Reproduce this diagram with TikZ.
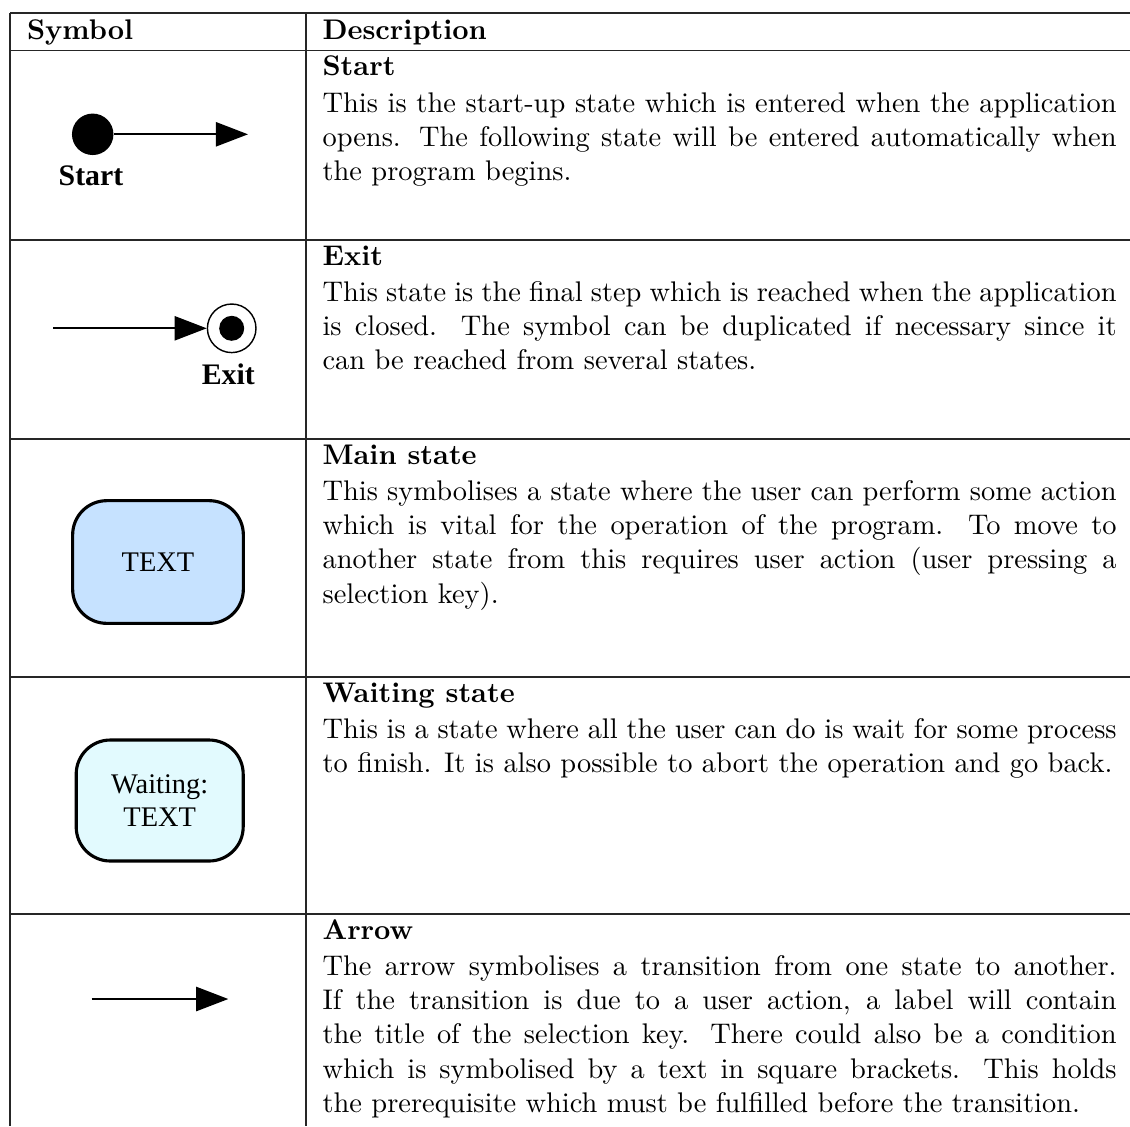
\documentclass[tikz,border=0pt]{standalone}
\usepackage{fontspec}
\usetikzlibrary{arrows.meta}
\newfontfamily\symfont{Liberation Serif}
\definecolor{mainfill}{HTML}{C6E2FF}
\definecolor{waitfill}{HTML}{E2FAFE}
\newlength\descw
\setlength\descw{279.6pt}
% one justified line of the description column
\newcommand\jline[1]{\makebox[\descw][s]{#1}}

\begin{document}
\begin{tikzpicture}[x=0.35211pt,y=-0.35211pt,
  rule/.style={line width=0.4pt, draw=black!85},
  txt/.style={anchor=base west, inner sep=0pt, font=\fontsize{10}{12}\selectfont},
  ttl/.style={anchor=base west, inner sep=0pt, font=\fontsize{10}{12}\selectfont\bfseries},
  conn/.style={line width=0.7pt, -{Triangle[length=11.3pt,width=8.5pt]}},
  symlabel/.style={anchor=base, inner sep=0pt, font=\symfont\bfseries\fontsize{10.5}{12}\selectfont},
  statebox/.style={draw, line width=1.1pt, rounded corners=12pt, inner sep=0pt, align=center,
                   font=\symfont\fontsize{10}{11.6}\selectfont}]
\useasboundingbox (0,0) rectangle (1130,1126);
\fill[white] (0,0) rectangle (1130,1126);

% table rules
\foreach \yy in {13,50.5,240,439,677,914}
  \draw[rule] (10,\yy) -- (1130,\yy);
\draw[rule] (10,13) -- (10,1126);
\draw[rule] (306,13) -- (306,1126);

% header
\node[ttl] (hsym) at (26.5,39) {Symbol};
\node[ttl] (hdesc) at (322,39) {Description};

% ---- Start ----
\node[circle, fill=black, minimum size=14.6pt, inner sep=0pt] (startdot) at (92.7,134.3) {};
\coordinate (startend) at (248,134.3);
\draw[conn] (startdot) -- (startend);
\node[symlabel] (startlbl) at (91,185) {Start};

\node[ttl] (t1) at (322,75.5) {Start};
\node[txt] (a1) at (322,112) {\jline{This is the start-up state which is entered when the application}};
\node[txt] (a2) at (322,146.2) {\jline{opens. The following state will be entered automatically when}};
\node[txt] (a3) at (322,180.4) {the program begins.};

% ---- Exit ----
\node[circle, draw, line width=0.5pt, minimum size=17.1pt, inner sep=0pt] (exitring) at (231.7,328.3) {};
\node[circle, fill=black, minimum size=8.8pt, inner sep=0pt] (exitdot) at (exitring.center) {};
\coordinate (exitstart) at (53,328.3);
\draw[conn] (exitstart) -- (exitring.west);
\node[symlabel] (exitlbl) at (228.3,384) {Exit};

\node[ttl] (t2) at (322,265) {Exit};
\node[txt] (b1) at (322,301.5) {\jline{This state is the final step which is reached when the application}};
\node[txt] (b2) at (322,335.7) {\jline{is closed. The symbol can be duplicated if necessary since it}};
\node[txt] (b3) at (322,369.9) {can be reached from several states.};

% ---- Main state ----
\node[statebox, fill=mainfill, minimum width=60.1pt, minimum height=43.2pt] (mainst) at (158,562) {TEXT};

\node[ttl] (t3) at (322,464) {Main state};
\node[txt] (c1) at (322,500.5) {\jline{This symbolises a state where the user can perform some action}};
\node[txt] (c2) at (322,534.7) {\jline{which is vital for the operation of the program. To move to}};
\node[txt] (c3) at (322,568.9) {\jline{another state from this requires user action (user pressing a}};
\node[txt] (c4) at (322,603.1) {selection key).};

% ---- Waiting state ----
\node[statebox, fill=waitfill, minimum width=58.8pt, minimum height=42.6pt] (waitst) at (159.7,800.5) {Waiting:\\TEXT};

\node[ttl] (t4) at (322,702) {Waiting state};
\node[txt] (d1) at (322,738.5) {\jline{This is a state where all the user can do is wait for some process}};
\node[txt] (d2) at (322,772.7) {to finish. It is also possible to abort the operation and go back.};

% ---- Arrow ----
\coordinate (arrstart) at (91.7,999);
\coordinate (arrend) at (228.3,999);
\draw[conn] (arrstart) -- (arrend);

\node[ttl] (t5) at (322,939) {Arrow};
\node[txt] (e1) at (322,975.5) {\jline{The arrow symbolises a transition from one state to another.}};
\node[txt] (e2) at (322,1009.7) {\jline{If the transition is due to a user action, a label will contain}};
\node[txt] (e3) at (322,1043.9) {\jline{the title of the selection key. There could also be a condition}};
\node[txt] (e4) at (322,1078.1) {\jline{which is symbolised by a text in square brackets. This holds}};
\node[txt] (e5) at (322,1112.3) {the prerequisite which must be fulfilled before the transition.};
\end{tikzpicture}
\end{document}
